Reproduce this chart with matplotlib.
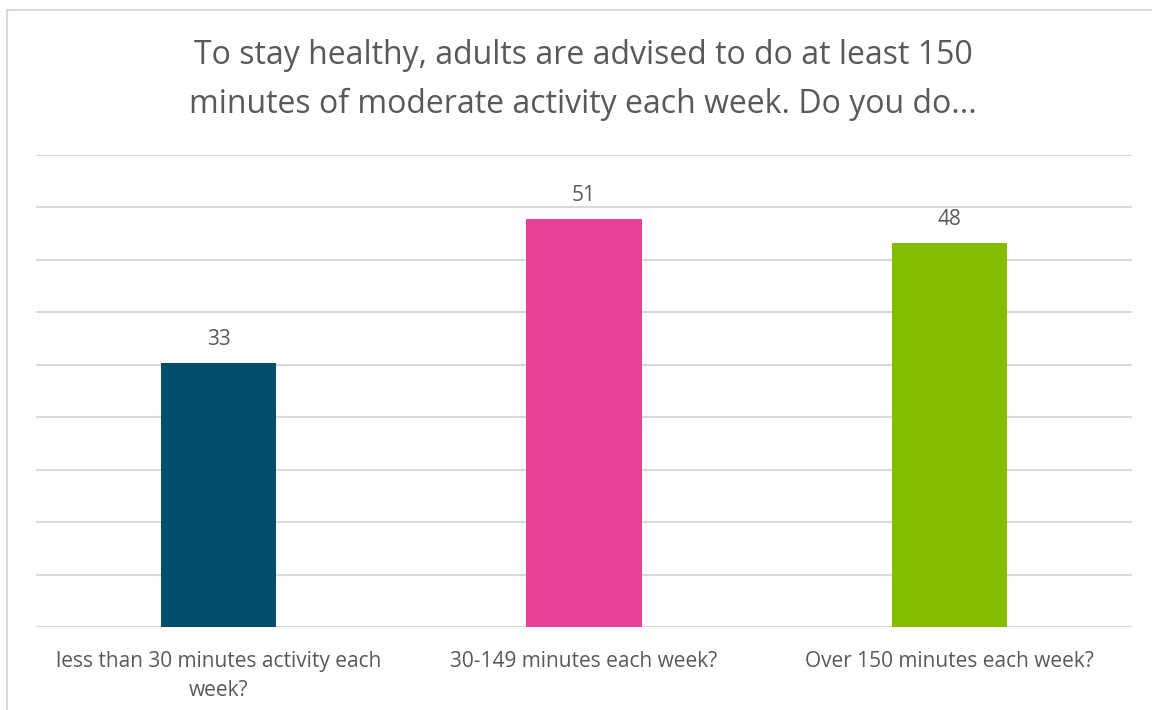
import matplotlib.pyplot as plt
from matplotlib.lines import Line2D
import numpy as np

categories = ['less than 30 minutes activity each\nweek?',
              '30-149 minutes each week?',
              'Over 150 minutes each week?']
values = [33, 51, 48]
colors = ['#00506b', '#e84096', '#84bd00']
title = 'To stay healthy, adults are advised to do at least 150\nminutes of moderate activity each week. Do you do...'

plt.rcParams['font.family'] = ['Open Sans', 'DejaVu Sans']
text_color = '#595959'
grid_color = '#d9d9d9'

W, H = 1152, 710
fig = plt.figure(figsize=(W / 100, H / 100), dpi=100)
ax = fig.add_axes([36 / W, 1 - 627 / H, (1132 - 36) / W, (627 - 155) / H])

x = np.arange(len(categories))
bars = ax.bar(x, values, width=0.315, color=colors, zorder=3)

ymax = 59
ax.set_ylim(0, ymax)
ax.set_xlim(-0.5, len(categories) - 0.5)
for g in np.linspace(0, ymax, 10):
    ax.axhline(g, color=grid_color, lw=1.5, zorder=1)

for b, v in zip(bars, values):
    ax.annotate(str(v), (b.get_x() + b.get_width() / 2, v),
                xytext=(0, 17), textcoords='offset points',
                ha='center', va='center', fontsize=15, color=text_color)

ax.set_xticks(x)
ax.set_xticklabels(categories, fontsize=15, color=text_color, linespacing=1.5)
ax.tick_params(axis='x', length=0, pad=17)
ax.set_yticks([])
for s in ax.spines.values():
    s.set_visible(False)

fig.text(583 / W, 1 - 80 / H, title, ha='center', va='center',
         fontsize=23, color=text_color, linespacing=1.6)

# outer chart border (left and top edges visible)
fig.add_artist(Line2D([7 / W, 7 / W], [0, 1 - 10 / H], color=grid_color, lw=1.5))
fig.add_artist(Line2D([7 / W, 1], [1 - 10 / H, 1 - 10 / H], color=grid_color, lw=1.5))

fig.savefig('out.png', dpi=100)
